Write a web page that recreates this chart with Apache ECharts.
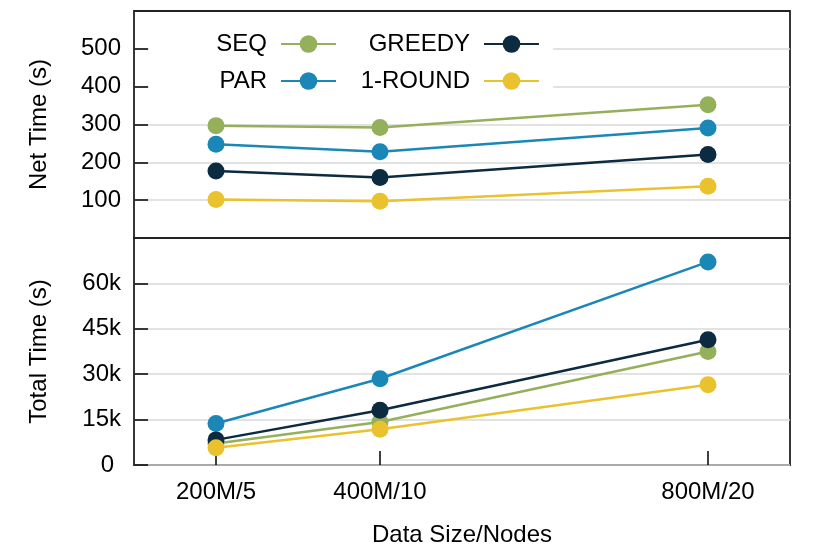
<!DOCTYPE html>
<html>
<head>
<meta charset="utf-8">
<script src="https://cdn.jsdelivr.net/npm/echarts@6/dist/echarts.min.js"></script>
<style>
html,body{margin:0;padding:0;background:#fff;}
#chart{width:831px;height:554px;}
</style>
</head>
<body>
<div id="chart"></div>
<script>
// ---- data ----
const categories = ['200M/5', '400M/10', '800M/20'];
const dataSize = [200, 400, 800];
const seriesNames = ['SEQ', 'PAR', 'GREEDY', '1-ROUND'];
const netSEQ = [297, 292, 352];
const netPAR = [248, 228, 291];
const netGREEDY = [177, 160, 221];
const netROUND = [102, 97, 137];
const totalSEQ = [7100, 14200, 37500];
const totalPAR = [13700, 28500, 67100];
const totalGREEDY = [8300, 18100, 41400];
const totalROUND = [5700, 11800, 26500];
const netTicks = [100, 200, 300, 400, 500];
const totalTicks = [0, 15000, 30000, 45000, 60000];
const totalTickLabels = ['0', '15k', '30k', '45k', '60k'];

const colors = ['#94b05a', '#1a87b6', '#0c2a40', '#e9c22e'];
const FONT = 'Liberation Sans, Arial, Helvetica, sans-serif';

function pts(vals) { return dataSize.map((x, i) => [x, vals[i]]); }

const netData = [netSEQ, netPAR, netGREEDY, netROUND];
const totalData = [totalSEQ, totalPAR, totalGREEDY, totalROUND];

const series = [];
seriesNames.forEach((n, i) => {
  series.push({
    name: n, type: 'line', xAxisIndex: 0, yAxisIndex: 0,
    data: pts(netData[i]), symbol: 'circle', symbolSize: 17,
    lineStyle: { width: 2.5, color: colors[i] },
    itemStyle: { color: colors[i] },
    z: 2 + i
  });
});
seriesNames.forEach((n, i) => {
  series.push({
    name: n, type: 'line', xAxisIndex: 1, yAxisIndex: 1,
    data: pts(totalData[i]), symbol: 'circle', symbolSize: 17,
    lineStyle: { width: 2.5, color: colors[i] },
    itemStyle: { color: colors[i] },
    z: 2 + i
  });
});

function legendFor(name, right, top) {
  return {
    data: [name], right: right, top: top, padding: 0,
    align: 'right', itemWidth: 55, itemHeight: 22, selectedMode: false,
    textStyle: { fontFamily: FONT, fontSize: 24, color: '#000', padding: [0, 9, 0, 0] }
  };
}

const axisTickStyle = { color: '#000', width: 1.5 };
const splitStyle = { color: '#d9d9d9', width: 1.5 };

const option = {
  animation: false,
  backgroundColor: '#fff',
  textStyle: { fontFamily: FONT },
  color: colors,
  graphic: [{
    type: 'rect', z: 1, left: 149, top: 22,
    shape: { width: 404, height: 86 },
    style: { fill: '#fff' }
  }],
  legend: [
    legendFor('SEQ', 494, 32),
    legendFor('PAR', 494, 69),
    legendFor('GREEDY', 291, 32),
    legendFor('1-ROUND', 291, 69)
  ],
  grid: [
    { left: 134, top: 11, width: 656, height: 227, show: true, borderColor: '#222', borderWidth: 1.8, backgroundColor: 'transparent' },
    { left: 134, top: 238, width: 656, height: 227, show: true, borderColor: '#222', borderWidth: 1.8, backgroundColor: 'transparent' }
  ],
  xAxis: [
    { type: 'value', gridIndex: 0, min: 100, max: 900, show: false, splitLine: { show: false } },
    {
      type: 'value', gridIndex: 1, min: 100, max: 900,
      axisLine: { show: false },
      splitLine: { show: false },
      axisTick: { show: true, inside: true, length: 14, lineStyle: axisTickStyle, customValues: dataSize },
      axisLabel: {
        fontFamily: FONT, fontSize: 24, color: '#000', margin: 15,
        customValues: dataSize,
        formatter: v => { const i = dataSize.indexOf(v); return i >= 0 ? categories[i] : ''; }
      },
      name: 'Data Size/Nodes', nameLocation: 'middle', nameGap: 58,
      nameTextStyle: { fontFamily: FONT, fontSize: 24, color: '#000' }
    }
  ],
  yAxis: [
    {
      type: 'value', gridIndex: 0, min: 0, max: 600, interval: 100,
      axisLine: { show: false },
      axisTick: { show: true, inside: true, length: 14, lineStyle: axisTickStyle, customValues: netTicks },
      splitLine: { show: true, lineStyle: splitStyle },
      axisLabel: { fontFamily: FONT, fontSize: 24, color: '#000', margin: 13, customValues: netTicks },
      name: 'Net Time (s)', nameLocation: 'middle', nameGap: 83,
      nameTextStyle: { fontFamily: FONT, fontSize: 24, color: '#000' }
    },
    {
      type: 'value', gridIndex: 1, min: 0, max: 75000, interval: 15000,
      axisLine: { show: false },
      axisTick: { show: true, inside: true, length: 14, lineStyle: axisTickStyle, customValues: totalTicks },
      splitLine: { show: true, lineStyle: splitStyle },
      axisLabel: {
        fontFamily: FONT, fontSize: 24, color: '#000', margin: 13, customValues: totalTicks,
        formatter: v => { const i = totalTicks.indexOf(v); if (i === 0) return '{z|0}'; return i >= 0 ? totalTickLabels[i] : ''; },
        rich: { z: { fontFamily: FONT, fontSize: 24, color: '#000', padding: [0, 7, 0, 0] } }
      },
      name: 'Total Time (s)', nameLocation: 'middle', nameGap: 83,
      nameTextStyle: { fontFamily: FONT, fontSize: 24, color: '#000' }
    }
  ],
  series: series
};

const chart = echarts.init(document.getElementById('chart'), null, { renderer: 'canvas' });
chart.setOption(option);
</script>
</body>
</html>
